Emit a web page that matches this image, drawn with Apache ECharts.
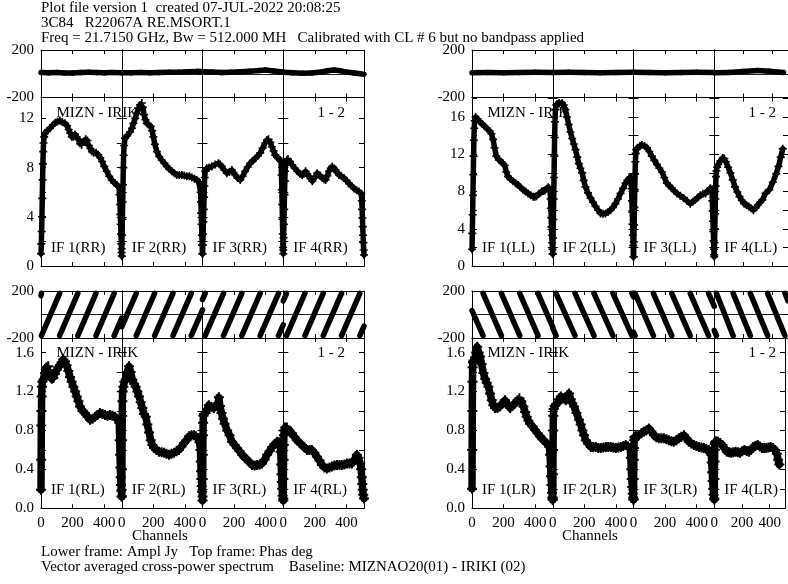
<!DOCTYPE html>
<html><head><meta charset="utf-8">
<script src="https://cdn.jsdelivr.net/npm/echarts@6.0.0/dist/echarts.min.js"></script>
<style>html,body{margin:0;padding:0;background:#fff}#c{width:788px;height:584px}</style>
</head><body><div id="c"></div>
<script>
// ---------------- data ----------------
const titleLines = [
  'Plot file version 1  created 07-JUL-2022 20:08:25',
  '3C84   R22067A RE.MSORT.1',
  'Freq = 21.7150 GHz, Bw = 512.000 MH   Calibrated with CL # 6 but no bandpass applied'
];
const footerLines = [
  'Lower frame: Ampl Jy   Top frame: Phas deg',
  'Vector averaged cross-power spectrum    Baseline: MIZNAO20(01) - IRIKI (02)'
];
const xAxisTitle = 'Channels';
const baselineLabel = 'MIZN - IRIK';
const stokesLabel = '1 - 2';
const ifNames = ['IF 1', 'IF 2', 'IF 3', 'IF 4'];
const polarizations = ['RR', 'LL', 'RL', 'LR'];
const channelTicks = [0, 200, 400];
const phaseTicks = [-200, 200];

// amplitude (Jy) per IF: [channel, value]
const ampRR = [
  [[0,1.0],[2,1.8],[4,2.8],[6,4.0],[8,5.5],[10,7.0],[12,8.3],[14,9.3],[16,10.0],[20,10.5],[25,10.8],[40,11.0],[57,11.2],[75,11.45],[90,11.65],[105,11.75],[120,11.8],[135,11.7],[152,11.6],[165,11.4],[175,11.1],[185,10.8],[195,10.5],[205,10.5],[215,10.7],[225,10.5],[236,10.3],[247,9.95],[258,9.85],[270,10.1],[283,10.3],[294,10.2],[303,9.8],[312,9.55],[322,9.3],[333,9.2],[348,9.2],[362,9.05],[375,8.8],[386,8.5],[400,8.1],[416,7.7],[432,7.3],[448,7.0],[464,6.75],[480,6.6],[494,6.4],[497,5.8],[500,5.0],[502,4.2],[504,3.4],[506,2.6],[508,1.8],[510,1.1],[511,0.8]],
  [[0,1.4],[2,2.5],[4,3.8],[6,5.2],[8,6.6],[10,8.0],[12,9.0],[15,9.8],[21,10.4],[35,10.6],[53,10.9],[65,11.2],[74,11.6],[85,12.0],[95,12.4],[106,12.8],[116,13.1],[127,13.25],[134,12.9],[141,12.3],[150,11.9],[158,11.6],[170,11.5],[184,11.35],[192,11.0],[200,10.5],[210,9.9],[222,9.3],[237,8.9],[253,8.6],[270,8.35],[285,8.1],[300,7.9],[317,7.7],[333,7.55],[348,7.4],[364,7.4],[380,7.4],[396,7.35],[412,7.3],[428,7.3],[443,7.2],[460,7.1],[475,7.0],[488,6.85],[496,6.7],[499,6.0],[501,5.2],[503,4.3],[505,3.4],[507,2.5],[509,1.7],[511,1.0]],
  [[0,1.0],[2,1.7],[4,2.6],[6,3.6],[8,4.6],[10,5.6],[12,6.5],[14,7.2],[17,7.7],[27,7.95],[42,8.0],[59,8.1],[80,8.25],[101,8.35],[112,8.25],[122,8.1],[138,7.8],[154,7.55],[170,7.65],[186,7.8],[196,7.6],[207,7.4],[222,7.15],[239,7.0],[254,7.3],[270,7.7],[286,8.05],[302,8.35],[318,8.55],[334,8.75],[350,8.95],[365,9.2],[381,9.6],[397,10.0],[408,10.25],[418,10.3],[429,10.05],[439,9.7],[450,9.35],[460,9.0],[471,8.85],[481,8.75],[490,8.6],[497,8.5],[500,7.4],[502,6.2],[504,5.0],[506,3.8],[508,2.6],[510,1.5],[511,1.0]],
  [[0,1.3],[2,2.3],[4,3.4],[6,4.6],[8,5.8],[10,6.9],[12,7.7],[15,8.3],[22,8.6],[30,8.7],[43,8.5],[57,8.2],[73,7.95],[89,7.7],[105,7.5],[120,7.4],[131,7.5],[141,7.7],[152,7.5],[162,7.3],[173,7.1],[184,6.9],[200,7.2],[215,7.55],[231,7.35],[247,7.15],[258,7.05],[268,7.0],[279,7.35],[289,7.7],[300,7.95],[310,8.1],[321,7.95],[331,7.8],[342,7.6],[352,7.4],[368,7.3],[384,7.15],[400,6.95],[416,6.7],[432,6.5],[448,6.3],[464,6.15],[479,6.05],[494,5.9],[497,5.3],[499,4.6],[501,3.9],[503,3.2],[505,2.5],[507,1.9],[509,1.3],[511,0.9]]
];
const ampLL = [
  [[0,1.8],[2,3.5],[4,5.5],[6,7.6],[8,9.8],[10,11.8],[12,13.5],[14,14.8],[17,15.6],[23,16.0],[35,15.8],[49,15.5],[65,15.25],[80,15.0],[96,14.75],[112,14.5],[123,14.2],[133,13.6],[143,12.7],[154,11.8],[170,11.4],[186,11.2],[197,11.0],[207,10.8],[217,10.1],[228,9.6],[244,9.35],[260,9.1],[276,8.9],[292,8.7],[307,8.45],[323,8.2],[339,8.0],[355,7.8],[371,7.6],[387,7.45],[398,7.45],[408,7.5],[424,7.75],[440,8.0],[451,8.05],[461,8.1],[472,8.3],[482,8.45],[489,8.35],[494,8.2],[497,7.2],[499,6.2],[501,5.2],[503,4.2],[505,3.3],[507,2.5],[509,1.8],[511,1.3]],
  [[0,1.3],[2,3.0],[4,5.0],[6,7.2],[8,9.5],[10,11.8],[12,13.8],[14,15.5],[17,16.8],[22,17.3],[27,17.4],[40,17.5],[59,17.5],[70,17.3],[80,16.8],[90,16.0],[101,15.2],[112,14.4],[123,13.7],[133,13.1],[144,12.5],[155,11.7],[165,11.0],[175,10.5],[186,10.0],[196,9.2],[207,8.5],[223,7.85],[239,7.3],[255,6.85],[271,6.4],[287,6.0],[302,5.65],[318,5.6],[334,5.65],[350,5.8],[366,6.0],[381,6.3],[397,6.7],[413,7.2],[429,7.8],[445,8.35],[461,8.9],[472,9.2],[482,9.4],[490,9.5],[497,9.5],[499,8.3],[501,7.0],[503,5.8],[505,4.5],[507,3.3],[509,2.2],[511,1.0]],
  [[0,1.0],[2,2.6],[4,4.4],[6,6.3],[8,8.2],[10,9.9],[12,11.2],[14,12.1],[17,12.5],[25,12.7],[40,12.9],[53,13.0],[70,12.9],[85,12.7],[100,12.3],[116,11.8],[132,11.35],[148,10.9],[164,10.5],[180,10.1],[195,9.5],[211,8.9],[227,8.6],[243,8.35],[259,8.05],[275,7.8],[296,7.55],[317,7.3],[338,7.0],[359,6.7],[375,6.9],[391,7.1],[407,7.35],[423,7.6],[439,7.75],[455,7.8],[470,8.05],[486,8.35],[493,8.2],[497,8.0],[499,7.0],[501,5.9],[503,4.8],[505,3.7],[507,2.7],[509,1.8],[511,1.0]],
  [[0,1.2],[2,2.5],[4,4.0],[6,5.6],[8,7.2],[10,8.6],[12,9.6],[15,10.2],[20,10.6],[27,10.9],[43,11.3],[59,11.6],[70,11.55],[80,11.2],[96,10.6],[112,10.0],[128,9.25],[144,8.5],[160,7.95],[175,7.45],[191,7.05],[207,6.7],[223,6.55],[239,6.4],[255,6.2],[271,6.0],[287,6.25],[302,6.55],[318,6.85],[334,7.1],[355,7.8],[382,8.2],[406,9.0],[429,9.9],[445,10.7],[461,11.7],[475,12.6]]
];
const ampRL = [
  [[0,0.19],[1,0.5],[2,0.85],[3,1.0],[4,1.15],[6,1.25],[9,1.3],[15,1.32],[25,1.39],[35,1.45],[46,1.46],[57,1.36],[68,1.33],[78,1.34],[88,1.38],[99,1.42],[110,1.45],[120,1.47],[131,1.5],[141,1.53],[152,1.51],[162,1.47],[173,1.41],[184,1.35],[194,1.3],[205,1.25],[216,1.2],[226,1.15],[237,1.1],[247,1.045],[263,1.0],[278,0.98],[294,0.94],[310,0.91],[326,0.92],[342,0.94],[357,0.96],[373,0.98],[389,0.97],[405,0.96],[421,0.95],[437,0.96],[452,0.95],[468,0.94],[480,0.92],[489,0.91],[495,0.88],[498,0.7],[500,0.55],[502,0.42],[504,0.32],[506,0.24],[508,0.18],[511,0.12]],
  [[0,0.12],[1,0.4],[2,0.7],[3,0.95],[4,1.1],[6,1.2],[10,1.25],[17,1.3],[25,1.32],[35,1.4],[46,1.46],[56,1.4],[67,1.32],[78,1.28],[88,1.25],[99,1.2],[109,1.15],[120,1.09],[130,1.03],[141,0.97],[152,0.94],[162,0.86],[173,0.78],[183,0.70],[194,0.65],[204,0.62],[220,0.6],[236,0.58],[252,0.575],[268,0.57],[283,0.56],[299,0.55],[315,0.56],[331,0.57],[347,0.585],[362,0.6],[378,0.635],[394,0.67],[410,0.7],[426,0.74],[441,0.75],[457,0.75],[470,0.74],[483,0.72],[492,0.68],[498,0.6],[500,0.48],[502,0.38],[504,0.3],[506,0.23],[508,0.17],[511,0.12]],
  [[0,0.08],[1,0.3],[2,0.55],[3,0.75],[4,0.88],[6,0.95],[10,0.97],[19,0.98],[30,1.02],[40,1.06],[56,1.04],[72,1.03],[88,1.05],[98,1.08],[104,1.14],[110,1.05],[120,0.98],[130,0.92],[140,0.87],[156,0.8],[171,0.75],[187,0.685],[203,0.65],[219,0.62],[235,0.585],[251,0.55],[267,0.52],[283,0.5],[298,0.47],[314,0.445],[330,0.44],[346,0.445],[362,0.45],[377,0.46],[393,0.5],[409,0.55],[425,0.59],[441,0.63],[457,0.66],[472,0.685],[484,0.68],[490,0.66],[495,0.58],[498,0.45],[500,0.35],[502,0.27],[504,0.2],[507,0.13],[511,0.08]],
  [[0,0.1],[1,0.3],[2,0.5],[3,0.65],[4,0.75],[6,0.8],[12,0.83],[23,0.83],[39,0.8],[55,0.77],[70,0.735],[86,0.7],[102,0.675],[118,0.65],[134,0.625],[150,0.6],[166,0.6],[181,0.6],[197,0.57],[213,0.53],[229,0.49],[245,0.445],[260,0.42],[276,0.41],[292,0.42],[308,0.43],[324,0.44],[340,0.445],[356,0.445],[371,0.445],[387,0.45],[403,0.46],[419,0.46],[435,0.46],[450,0.5],[466,0.55],[476,0.52],[487,0.46],[493,0.4],[497,0.32],[500,0.25],[503,0.19],[506,0.14],[511,0.1]]
];
const ampLR = [
  [[0,0.2],[1,0.6],[2,1.0],[3,1.3],[4,1.45],[6,1.5],[10,1.52],[19,1.55],[26,1.6],[33,1.66],[42,1.6],[51,1.56],[61,1.48],[72,1.39],[83,1.33],[93,1.29],[104,1.25],[114,1.18],[125,1.11],[135,1.06],[146,1.03],[161,1.03],[177,1.045],[193,1.08],[209,1.11],[225,1.07],[241,1.03],[256,1.05],[272,1.08],[288,1.11],[300,1.13],[312,1.1],[325,1.045],[336,0.99],[346,0.94],[357,0.9],[367,0.87],[383,0.84],[399,0.805],[415,0.77],[430,0.74],[446,0.71],[462,0.685],[476,0.66],[490,0.63],[494,0.55],[497,0.43],[500,0.33],[503,0.24],[506,0.16],[509,0.11],[511,0.085]],
  [[0,0.1],[1,0.35],[2,0.6],[3,0.8],[4,0.95],[6,1.02],[12,1.05],[20,1.07],[30,1.08],[40,1.12],[51,1.15],[66,1.13],[82,1.11],[93,1.14],[103,1.18],[114,1.12],[124,1.08],[135,1.045],[150,0.98],[166,0.91],[177,0.86],[188,0.8],[198,0.75],[209,0.70],[225,0.66],[241,0.63],[256,0.63],[272,0.63],[288,0.62],[304,0.62],[320,0.625],[336,0.63],[351,0.63],[367,0.63],[383,0.625],[399,0.62],[415,0.625],[431,0.63],[446,0.64],[462,0.65],[476,0.635],[490,0.62],[494,0.52],[497,0.4],[500,0.3],[503,0.22],[506,0.15],[509,0.11],[511,0.09]],
  [[0,0.09],[1,0.3],[2,0.5],[3,0.62],[4,0.7],[6,0.73],[12,0.74],[20,0.74],[34,0.75],[50,0.77],[65,0.79],[81,0.8],[97,0.82],[113,0.79],[129,0.75],[144,0.73],[160,0.72],[176,0.72],[192,0.72],[208,0.71],[224,0.70],[240,0.69],[255,0.685],[271,0.70],[287,0.72],[303,0.735],[319,0.75],[335,0.72],[350,0.685],[366,0.665],[382,0.65],[398,0.64],[414,0.63],[430,0.625],[445,0.62],[461,0.61],[477,0.60],[486,0.58],[492,0.55],[495,0.47],[498,0.37],[501,0.28],[504,0.2],[507,0.14],[511,0.09]],
  [[0,0.1],[1,0.3],[2,0.48],[3,0.6],[4,0.66],[6,0.68],[12,0.69],[27,0.685],[43,0.67],[59,0.65],[75,0.615],[91,0.58],[107,0.575],[122,0.57],[138,0.575],[154,0.58],[170,0.575],[186,0.57],[202,0.585],[218,0.6],[234,0.59],[250,0.58],[265,0.6],[281,0.63],[297,0.64],[313,0.65],[329,0.635],[345,0.62],[361,0.62],[376,0.62],[392,0.625],[408,0.63],[424,0.62],[440,0.6],[452,0.56],[461,0.5],[470,0.45]]
];

// phase (deg) per IF, as stripe segments [ch0, ph0, ch1, ph1]
const phaseRR = [
  [[0,10,50,8],[50,8,100,10],[100,10,150,6],[150,6,200,7],[200,7,250,10],[250,10,300,13],[300,13,350,10],[350,10,400,8],[400,8,450,10],[450,10,511,9]],
  [[0,9,60,8],[60,8,120,10],[120,10,180,8],[180,8,240,10],[240,10,300,12],[300,12,360,13],[360,13,420,16],[420,16,480,20],[480,20,511,18]],
  [[0,16,60,14],[60,14,120,10],[120,10,180,12],[180,12,240,16],[240,16,300,22],[300,22,360,28],[360,28,400,31],[400,31,450,24],[450,24,511,14]],
  [[0,12,60,8],[60,8,120,4],[120,4,180,6],[180,6,240,14],[240,14,280,25],[280,25,320,31],[320,31,360,26],[360,26,400,14],[400,14,450,6],[450,6,511,-4]]
];
const phaseLL = [
  [[0,8,100,10],[100,10,200,8],[200,8,300,10],[300,10,400,12],[400,12,511,10]],
  [[0,10,100,12],[100,12,200,10],[200,10,300,8],[300,8,400,10],[400,10,511,12]],
  [[0,12,100,10],[100,10,200,8],[200,8,300,10],[300,10,400,12],[400,12,511,10]],
  [[0,8,100,10],[100,10,200,18],[200,18,300,28],[300,28,380,22],[380,22,480,10]]
];
const phaseRL = [
  [[0,160,3,180],[3,-180,118,180],[118,-180,233,180],[233,-180,348,180],[348,-180,463,180],[463,-180,511,-30]],
  [[0,-105,92,180],[92,-180,208,180],[208,-180,324,180],[324,-180,440,180],[440,-180,511,40]],
  [[0,127,17,180],[17,-180,133,180],[133,-180,249,180],[249,-180,365,180],[365,-180,481,180],[481,-180,511,-87]],
  [[0,115,21,180],[21,-180,137,180],[137,-180,253,180],[253,-180,369,180],[369,-180,485,180],[485,-180,511,-99]]
];
const phaseLR = [
  [[0,34,70,-180],[70,180,186,-180],[186,180,302,-180],[302,180,418,-180],[418,180,511,-108]],
  [[0,-116,21,-180],[21,180,141,-180],[141,180,261,-180],[261,180,381,-180],[381,180,501,-180],[501,180,511,150]],
  [[0,-150,10,-180],[10,180,126,-180],[126,180,242,-180],[242,180,359,-180],[359,180,475,-180],[475,180,511,70]],
  [[0,-135,15,-180],[15,180,131,-180],[131,180,250,-180],[250,180,370,-180],[370,180,490,-180],[490,180,511,115]]
];

// ---------------- layout / style ----------------
const FONT = '"Liberation Serif", "Times New Roman", Times, serif';
const FS = 15;
const IFW = 80.75;
const PLUS = 'path://M0,4H10V6H0Z M4,0H6V10H4Z';
const panels = [
  {pol:0, amp:ampRR, phase:phaseRR, left:41,  pTop:50,  pH:47.5, aTop:97.5, aH:168.5, aMax:13.7, aInt:2,   lblStep:4,   dec:0, noisy:false, xLabels:false},
  {pol:1, amp:ampLL, phase:phaseLL, left:472, pTop:50,  pH:47.5, aTop:97.5, aH:168.5, aMax:18.1, aInt:2,   lblStep:4,   dec:0, noisy:false, xLabels:false},
  {pol:2, amp:ampRL, phase:phaseRL, left:41,  pTop:291, pH:47,   aTop:338,  aH:170.3, aMax:1.75, aInt:0.2, lblStep:0.4, dec:1, noisy:true,  xLabels:true},
  {pol:3, amp:ampLR, phase:phaseLR, left:472, pTop:291, pH:47,   aTop:338,  aH:170.3, aMax:1.75, aInt:0.2, lblStep:0.4, dec:1, noisy:true,  xLabels:true}
];

const grids = [], xAxes = [], yAxes = [], series = [], graphics = [];
const lineCol = '#000';
const labelStyle = {color:'#000', fontFamily:FONT, fontSize:FS};

function addGrid(left, top, width, height) {
  grids.push({left, top, width, height, containLabel:false, show:false});
  return grids.length - 1;
}
function addX(gi, position, showLabels) {
  xAxes.push({
    type:'value', gridIndex:gi, position, min:0, max:511, interval:200,
    axisLine:{show:true, onZero:false, lineStyle:{color:lineCol, width:1}},
    axisTick:{show:true, inside:true, length:4, lineStyle:{color:lineCol}},
    axisLabel:{show:showLabels, margin:7, ...labelStyle,
      formatter: v => channelTicks.includes(v) ? String(v) : ''},
    splitLine:{show:false}
  });
  return xAxes.length - 1;
}
function addY(gi, position, min, max, interval, showLabels, formatter, split) {
  yAxes.push({
    type:'value', gridIndex:gi, position, min, max, interval,
    axisLine:{show:true, onZero:false, lineStyle:{color:lineCol, width:1}},
    axisTick:{show:!split, inside:true, length:5, lineStyle:{color:lineCol}},
    axisLabel:{show:showLabels, margin:7, ...labelStyle, formatter},
    splitLine:{show:!!split, lineStyle:{color:'#222', width:1}}
  });
  return yAxes.length - 1;
}

panels.forEach(p => {
  for (let i = 0; i < 4; i++) {
    const left = p.left + i * IFW;
    // phase frame
    const gp = addGrid(left, p.pTop, IFW, p.pH);
    const xp = addX(gp, 'bottom', false);
    addX(gp, 'top', false);
    const yp = addY(gp, 'left', -200, 200, 200, i === 0,
      v => phaseTicks.includes(v) ? String(v) : '', true);
    addY(gp, 'right', -200, 200, 200, false, null, false);
    p.phase[i].forEach(seg => {
      series.push({
        type:'line', xAxisIndex:xp, yAxisIndex:yp, data:[[seg[0], seg[1]], [seg[2], seg[3]]],
        symbol:'none', lineStyle:{color:'#000', width:5.5, cap:'round'}, silent:true, animation:false, z:3
      });
    });
    // amplitude frame
    const ga = addGrid(left, p.aTop, IFW, p.aH);
    const xa = addX(ga, 'bottom', p.xLabels);
    addX(ga, 'top', false);
    const ya = addY(ga, 'left', 0, p.aMax, p.aInt, i === 0, v => {
      const k = v / p.lblStep;
      return Math.abs(k - Math.round(k)) < 1e-6 ? v.toFixed(p.dec) : '';
    }, false);
    addY(ga, 'right', 0, p.aMax, p.aInt, false, null, false);
    series.push({
      type:'line', xAxisIndex:xa, yAxisIndex:ya, data:p.amp[i],
      symbol:PLUS, symbolSize:p.noisy ? 10 : 8, showSymbol:true, showAllSymbol:true,
      lineStyle:{color:'#000', width:p.noisy ? 7.5 : 5.5, join:'round', cap:'round'},
      itemStyle:{color:'#000'}, silent:true, animation:false, z:3
    });
    // IF label
    graphics.push({type:'text', x:left + 10, y:p.aTop + p.aH - 18, z:0,
      style:{text:ifNames[i] + '(' + polarizations[p.pol] + ')', font:FS + 'px ' + FONT, fill:'#000', textVerticalAlign:'middle'}});
  }
  graphics.push({type:'text', x:p.left + 15.5, y:p.aTop + 15.5, z:0,
    style:{text:baselineLabel, font:FS + 'px ' + FONT, fill:'#000', textVerticalAlign:'middle'}});
  graphics.push({type:'text', x:p.left + 4 * IFW - 19, y:p.aTop + 15.5, z:0,
    style:{text:stokesLabel, font:FS + 'px ' + FONT, fill:'#000', textAlign:'right', textVerticalAlign:'middle'}});
});

titleLines.forEach((t, k) => graphics.push({type:'text', x:41, y:8.5 + 15 * k,
  style:{text:t, font:FS + 'px ' + FONT, fill:'#000', textVerticalAlign:'middle'}}));
footerLines.forEach((t, k) => graphics.push({type:'text', x:41, y:552 + 15 * k,
  style:{text:t, font:FS + 'px ' + FONT, fill:'#000', textVerticalAlign:'middle'}}));
[160, 590].forEach(cx => graphics.push({type:'text', x:cx, y:536.5,
  style:{text:xAxisTitle, font:FS + 'px ' + FONT, fill:'#000', textAlign:'center', textVerticalAlign:'middle'}}));

const chart = echarts.init(document.getElementById('c'), null, {renderer:'canvas'});
chart.setOption({
  backgroundColor:'#fff', animation:false,
  grid:grids, xAxis:xAxes, yAxis:yAxes, series, graphic:graphics
});
</script></body></html>
